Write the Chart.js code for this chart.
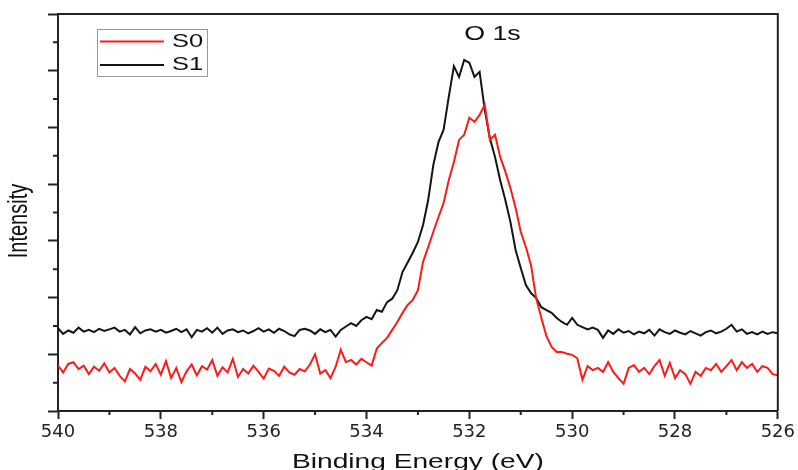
<!DOCTYPE html>
<html>
<head>
<meta charset="utf-8">
<script src="https://cdn.jsdelivr.net/npm/chart.js@4/dist/chart.umd.min.js"></script>
<style>
  body { margin: 0; background: #fff; }
</style>
</head>
<body>
<canvas id="xps" width="798" height="470"></canvas>
<script>
// binding energy grid (eV), 0.1 eV step
const energies = [
    540.0, 539.9, 539.8, 539.7, 539.6, 539.5, 539.4, 539.3, 539.2, 539.1,
    539.0, 538.9, 538.8, 538.7, 538.6, 538.5, 538.4, 538.3, 538.2, 538.1,
    538.0, 537.9, 537.8, 537.7, 537.6, 537.5, 537.4, 537.3, 537.2, 537.1,
    537.0, 536.9, 536.8, 536.7, 536.6, 536.5, 536.4, 536.3, 536.2, 536.1,
    536.0, 535.9, 535.8, 535.7, 535.6, 535.5, 535.4, 535.3, 535.2, 535.1,
    535.0, 534.9, 534.8, 534.7, 534.6, 534.5, 534.4, 534.3, 534.2, 534.1,
    534.0, 533.9, 533.8, 533.7, 533.6, 533.5, 533.4, 533.3, 533.2, 533.1,
    533.0, 532.9, 532.8, 532.7, 532.6, 532.5, 532.4, 532.3, 532.2, 532.1,
    532.0, 531.9, 531.8, 531.7, 531.6, 531.5, 531.4, 531.3, 531.2, 531.1,
    531.0, 530.9, 530.8, 530.7, 530.6, 530.5, 530.4, 530.3, 530.2, 530.1,
    530.0, 529.9, 529.8, 529.7, 529.6, 529.5, 529.4, 529.3, 529.2, 529.1,
    529.0, 528.9, 528.8, 528.7, 528.6, 528.5, 528.4, 528.3, 528.2, 528.1,
    528.0, 527.9, 527.8, 527.7, 527.6, 527.5, 527.4, 527.3, 527.2, 527.1,
    527.0, 526.9, 526.8, 526.7, 526.6, 526.5, 526.4, 526.3, 526.2, 526.1,
    526.0
];

// intensity, arbitrary units
const s0 = [
    0.80, 0.68, 0.83, 0.86, 0.74, 0.80, 0.65, 0.78, 0.71, 0.84,
    0.68, 0.76, 0.62, 0.52, 0.74, 0.66, 0.55, 0.78, 0.70, 0.83,
    0.64, 0.88, 0.58, 0.76, 0.51, 0.70, 0.82, 0.63, 0.79, 0.73,
    0.90, 0.62, 0.77, 0.68, 0.92, 0.60, 0.74, 0.66, 0.80, 0.69,
    0.57, 0.75, 0.71, 0.62, 0.78, 0.68, 0.64, 0.74, 0.70, 0.82,
    1.00, 0.66, 0.72, 0.58, 0.78, 1.08, 0.86, 0.90, 0.82, 0.92,
    0.86, 0.80, 1.10, 1.20, 1.29, 1.43, 1.57, 1.73, 1.87, 1.96,
    2.13, 2.63, 2.89, 3.16, 3.42, 3.67, 4.07, 4.39, 4.78, 4.87,
    5.17, 5.10, 5.22, 5.40, 4.78, 4.87, 4.48, 4.22, 3.93, 3.58,
    3.16, 2.89, 2.57, 1.99, 1.64, 1.32, 1.13, 1.04, 1.04, 1.01,
    0.99, 0.93, 0.55, 0.79, 0.72, 0.76, 0.69, 0.86, 0.69, 0.58,
    0.48, 0.76, 0.81, 0.69, 0.76, 0.65, 0.79, 0.90, 0.62, 0.85,
    0.58, 0.72, 0.65, 0.48, 0.69, 0.62, 0.76, 0.72, 0.83, 0.69,
    0.79, 0.90, 0.72, 0.86, 0.76, 0.83, 0.69, 0.79, 0.76, 0.65,
    0.63
];

const s1 = [
    1.46, 1.36, 1.42, 1.38, 1.47, 1.40, 1.43, 1.39, 1.45, 1.41,
    1.44, 1.47, 1.40, 1.43, 1.35, 1.48, 1.37, 1.42, 1.44, 1.40,
    1.43, 1.38, 1.41, 1.45, 1.39, 1.44, 1.30, 1.43, 1.40, 1.46,
    1.38, 1.47, 1.36, 1.42, 1.44, 1.39, 1.42, 1.37, 1.41, 1.46,
    1.40, 1.44, 1.38, 1.45, 1.41, 1.35, 1.32, 1.43, 1.45, 1.42,
    1.36, 1.44, 1.39, 1.43, 1.31, 1.43, 1.49, 1.55, 1.50, 1.60,
    1.66, 1.62, 1.78, 1.75, 1.92, 1.98, 2.13, 2.45, 2.62, 2.79,
    2.98, 3.28, 3.72, 4.34, 4.74, 4.96, 5.54, 6.08, 5.89, 6.19,
    6.14, 5.89, 5.98, 5.31, 4.81, 4.48, 4.07, 3.72, 3.33, 2.84,
    2.52, 2.22, 2.08, 1.99, 1.83, 1.78, 1.73, 1.64, 1.57, 1.52,
    1.64, 1.52, 1.48, 1.44, 1.47, 1.43, 1.29, 1.42, 1.36, 1.44,
    1.38, 1.41, 1.35, 1.40, 1.37, 1.43, 1.33, 1.44, 1.39, 1.36,
    1.42, 1.38, 1.35, 1.41, 1.37, 1.33, 1.39, 1.42, 1.37, 1.40,
    1.45, 1.52, 1.40, 1.44, 1.36, 1.39, 1.35, 1.40, 1.36, 1.39,
    1.37
];

const seriesNames = ["S0", "S1"];
const seriesColors = ["#ff1a1a", "#141414"];
const xMinorTicks = [539, 537, 535, 533, 531, 529, 527];
const yMinorTicks = [0.5, 1.5, 2.5, 3.5, 4.5, 5.5, 6.5];
const peakLabel = { text: "O 1s", x: 531.55, y: 6.63 };

const axisColor = "#222";

// text in the source image is stretched sideways, so draw our own text the same way
function wideText(ctx, text, px, py, align, sx, sy) {
    ctx.save();
    ctx.translate(px, py);
    ctx.scale(sx, sy);
    ctx.textAlign = align;
    ctx.textBaseline = "middle";
    ctx.fillText(text, 0, 0);
    ctx.restore();
}

const extras = {
    id: "extras",
    afterDraw(chart) {
        const { ctx, chartArea: a, scales: { x, y } } = chart;
        ctx.save();
        ctx.strokeStyle = axisColor;
        ctx.lineWidth = 2;

        // frame top + right
        ctx.beginPath();
        ctx.moveTo(a.left - 1, a.top);
        ctx.lineTo(a.right, a.top);
        ctx.lineTo(a.right, a.bottom);
        ctx.stroke();

        // minor ticks
        ctx.beginPath();
        xMinorTicks.forEach(v => {
            const px = x.getPixelForValue(v);
            ctx.moveTo(px, a.bottom);
            ctx.lineTo(px, a.bottom + 4);
        });
        yMinorTicks.forEach(v => {
            const py = y.getPixelForValue(v);
            ctx.moveTo(a.left, py);
            ctx.lineTo(a.left - 5, py);
        });
        ctx.stroke();

        // legend
        const bx = a.left + 39, by = a.top + 15;
        ctx.lineWidth = 1;
        ctx.strokeStyle = "#999";
        ctx.strokeRect(bx + 0.5, by + 0.5, 110, 47);
        ctx.font = "19px 'Liberation Sans', Arial, sans-serif";
        ctx.fillStyle = "#111";
        chart.data.datasets.forEach((ds, i) => {
            const ly = by + 12.5 + i * 23.5;
            ctx.strokeStyle = ds.borderColor;
            ctx.lineWidth = 2;
            ctx.beginPath();
            ctx.moveTo(bx + 3, ly);
            ctx.lineTo(bx + 67, ly);
            ctx.stroke();
            wideText(ctx, ds.label, bx + 75, ly, "left", 1.34, 1);
        });

        // peak label
        ctx.font = "20px 'Liberation Sans', Arial, sans-serif";
        wideText(ctx, peakLabel.text, x.getPixelForValue(peakLabel.x), y.getPixelForValue(peakLabel.y), "center", 1.34, 1);

        // axis titles
        ctx.font = "21px 'Liberation Sans', Arial, sans-serif";
        wideText(ctx, "Binding Energy (eV)", (a.left + a.right) / 2, a.bottom + 51, "center", 1.34, 1);
        ctx.save();
        ctx.translate(20, 221);
        ctx.rotate(-Math.PI / 2);
        ctx.font = "20px 'Liberation Sans', Arial, sans-serif";
        wideText(ctx, "Intensity", 0, 0, "center", 1, 1.34);
        ctx.restore();

        ctx.restore();
    }
};

const ctx = document.getElementById("xps").getContext("2d");
new Chart(ctx, {
    type: "line",
    data: {
        datasets: [
            {
                label: seriesNames[0],
                data: energies.map((e, i) => ({ x: e, y: s0[i] })),
                borderColor: seriesColors[0],
                borderWidth: 2,
                pointRadius: 0,
                tension: 0
            },
            {
                label: seriesNames[1],
                data: energies.map((e, i) => ({ x: e, y: s1[i] })),
                borderColor: seriesColors[1],
                borderWidth: 2,
                pointRadius: 0,
                tension: 0
            }
        ]
    },
    options: {
        responsive: false,
        animation: false,
        layout: { padding: { top: 14, right: 19, left: 0, bottom: 0 } },
        plugins: {
            legend: { display: false },
            tooltip: { enabled: false }
        },
        scales: {
            x: {
                type: "linear",
                reverse: true,
                min: 526,
                max: 540,
                afterFit: scale => { scale.height = 59; },
                border: { color: axisColor, width: 2 },
                grid: { drawOnChartArea: false, tickLength: 8, tickWidth: 2, tickColor: axisColor },
                ticks: {
                    stepSize: 2,
                    autoSkip: false,
                    maxRotation: 0,
                    padding: 3,
                    color: "#222",
                    font: { family: "'DejaVu Sans', sans-serif", size: 18 }
                }
            },
            y: {
                min: 0,
                max: 7,
                afterFit: scale => { scale.width = 58; },
                border: { color: axisColor, width: 2 },
                grid: { drawOnChartArea: false, tickLength: 10, tickWidth: 2, tickColor: axisColor },
                ticks: { stepSize: 1, display: false }
            }
        }
    },
    plugins: [extras]
});
</script>
</body>
</html>
